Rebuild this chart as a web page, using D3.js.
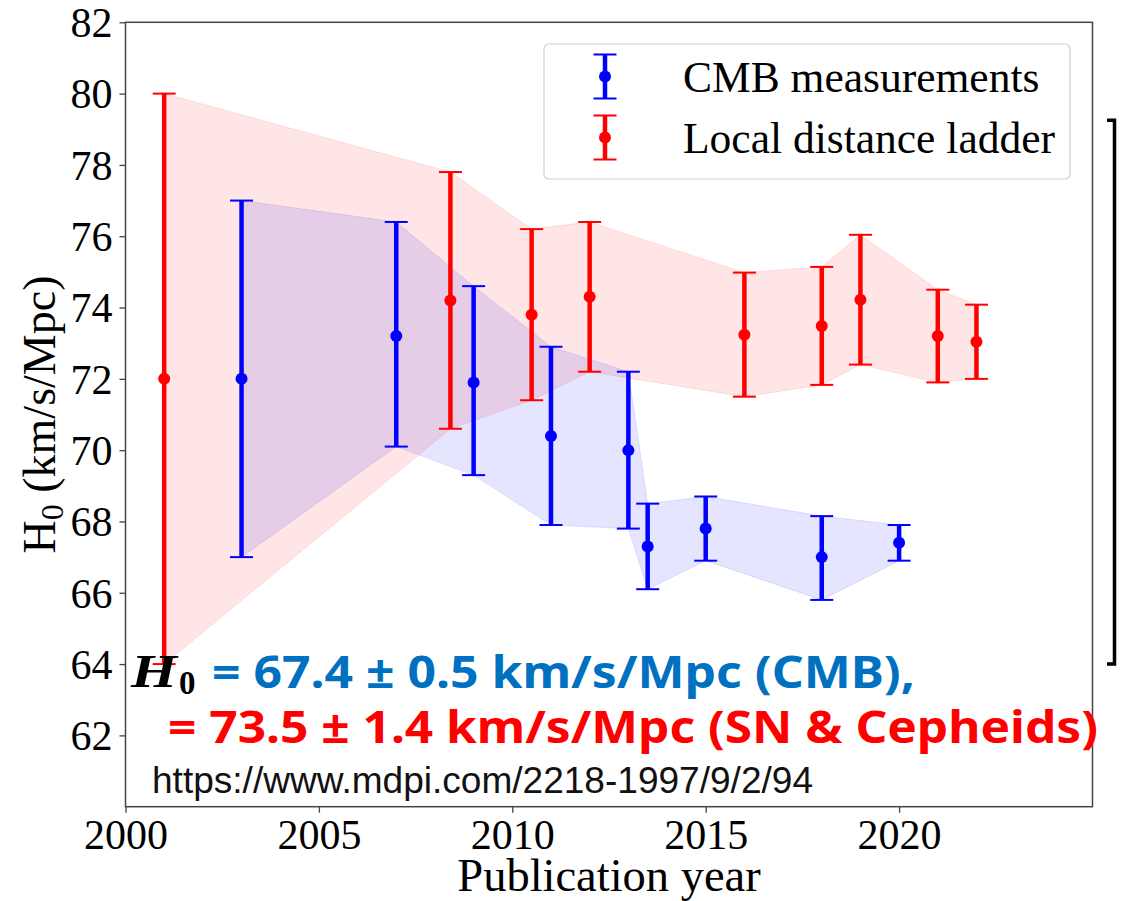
<!DOCTYPE html>
<html>
<head>
<meta charset="utf-8">
<script src="https://cdn.jsdelivr.net/npm/d3@7"></script>
<style>
  html, body { margin: 0; padding: 0; background: #fff; }
  svg { display: block; }
</style>
</head>
<body>
<svg id="chart" width="1125" height="901"></svg>
<script>
// Hubble constant measurements by publication year
const cmbYear  = [2003, 2007, 2009, 2011, 2013, 2013.5, 2015, 2018, 2020];
const cmbH0    = [72.0, 73.2, 71.9, 70.4, 70.0, 67.3, 67.8, 67.0, 67.4];
const cmbLow   = [67.0, 70.1, 69.3, 67.9, 67.8, 66.1, 66.9, 65.8, 66.9];
const cmbHigh  = [77.0, 76.4, 74.6, 72.9, 72.2, 68.5, 68.7, 68.15, 67.9];

const ladderYear = [2001, 2008.4, 2010.5, 2012, 2016, 2018, 2019, 2021, 2022];
const ladderH0   = [72.0, 74.2, 73.8, 74.3, 73.24, 73.48, 74.22, 73.2, 73.04];
const ladderLow  = [64.0, 70.6, 71.4, 72.2, 71.5, 71.83, 72.4, 71.9, 72.0];
const ladderHigh = [80.0, 77.8, 76.2, 76.4, 74.98, 75.14, 76.04, 74.5, 74.08];

const xTicks = [2000, 2005, 2010, 2015, 2020];
const yTicks = [62, 64, 66, 68, 70, 72, 74, 76, 78, 80, 82];
const legendLabels = ["CMB measurements", "Local distance ladder"];

const svg = d3.select("#chart");
const plot = { left: 125.5, right: 1092.5, top: 22.3, bottom: 806.7 };

const x = d3.scaleLinear().domain([2000, 2025]).range([plot.left, plot.right]);
const y = d3.scaleLinear().domain([60, 82]).range([plot.bottom, plot.top]);

const serif = "'Liberation Serif', 'Times New Roman', serif";
const blue = "#0000ff", red = "#ff0000";

function rows(years, mid, lo, hi) {
  return years.map((yr, i) => ({ year: yr, h0: mid[i], lo: lo[i], hi: hi[i] }));
}
const cmb = rows(cmbYear, cmbH0, cmbLow, cmbHigh);
const ladder = rows(ladderYear, ladderH0, ladderLow, ladderHigh);

// shaded uncertainty bands
const band = d3.area().x(d => x(d.year)).y0(d => y(d.lo)).y1(d => y(d.hi));
[[ladder, red], [cmb, blue]].forEach(([data, c]) => {
  svg.append("path").datum(data).attr("d", band)
    .attr("fill", c).attr("fill-opacity", 0.1)
    .attr("stroke", c).attr("stroke-opacity", 0.1).attr("stroke-width", 1);
});

// error bars with caps and central points
function errorBars(data, c) {
  const g = svg.append("g");
  g.selectAll("line.bar").data(data).join("line")
    .attr("x1", d => x(d.year)).attr("x2", d => x(d.year))
    .attr("y1", d => y(d.lo)).attr("y2", d => y(d.hi))
    .attr("stroke", c).attr("stroke-width", 4.5);
  ["lo", "hi"].forEach(k => {
    g.selectAll("line.cap" + k).data(data).join("line")
      .attr("x1", d => x(d.year) - 11.5).attr("x2", d => x(d.year) + 11.5)
      .attr("y1", d => y(d[k])).attr("y2", d => y(d[k]))
      .attr("stroke", c).attr("stroke-width", 2);
  });
  g.selectAll("circle").data(data).join("circle")
    .attr("cx", d => x(d.year)).attr("cy", d => y(d.h0)).attr("r", 6)
    .attr("fill", c);
}
errorBars(cmb, blue);
errorBars(ladder, red);

// axes
const spine = "#444";
const xAxis = svg.append("g").attr("transform", `translate(0,${plot.bottom})`)
  .call(d3.axisBottom(x).tickValues(xTicks).tickFormat(d3.format("d")).tickSize(6).tickPadding(7));
const yAxis = svg.append("g").attr("transform", `translate(${plot.left},0)`)
  .call(d3.axisLeft(y).tickValues(yTicks).tickSize(6).tickPadding(7));
[xAxis, yAxis].forEach(a => {
  a.select(".domain").remove();
  a.selectAll(".tick line").attr("stroke", spine).attr("stroke-width", 1.3);
  a.selectAll(".tick text").attr("font-family", serif).attr("font-size", 42).attr("fill", "#000");
});
xAxis.selectAll(".tick text").attr("dy", "0.70em");
yAxis.selectAll(".tick text").attr("dy", "0.34em");

svg.append("rect")
  .attr("x", plot.left).attr("y", plot.top)
  .attr("width", plot.right - plot.left).attr("height", plot.bottom - plot.top)
  .attr("fill", "none").attr("stroke", spine).attr("stroke-width", 1.5);

// axis titles
svg.append("text")
  .attr("x", (plot.left + plot.right) / 2).attr("y", 891)
  .attr("text-anchor", "middle").attr("font-family", serif).attr("font-size", 46.5)
  .text("Publication year");

const yl = svg.append("text")
  .attr("transform", `translate(55,${(plot.top + plot.bottom) / 2}) rotate(-90)`)
  .attr("text-anchor", "middle").attr("font-family", serif).attr("font-size", 46);
yl.append("tspan").text("H");
yl.append("tspan").attr("font-size", 32).attr("dy", 8).text("0");
yl.append("tspan").attr("dy", -8).text(" (km/s/Mpc)");

// legend
const lg = svg.append("g");
lg.append("rect").attr("x", 544).attr("y", 44).attr("width", 526).attr("height", 135)
  .attr("rx", 5).attr("fill", "#fff").attr("fill-opacity", 0.8)
  .attr("stroke", "#d0d0d0").attr("stroke-width", 1.2);
[[blue, 76.5], [red, 137.5]].forEach(([c, cy], i) => {
  lg.append("line").attr("x1", 605).attr("x2", 605).attr("y1", cy - 22).attr("y2", cy + 22)
    .attr("stroke", c).attr("stroke-width", 4.5);
  [-22, 22].forEach(o => lg.append("line")
    .attr("x1", 593.5).attr("x2", 616.5).attr("y1", cy + o).attr("y2", cy + o)
    .attr("stroke", c).attr("stroke-width", 2));
  lg.append("circle").attr("cx", 605).attr("cy", cy).attr("r", 6).attr("fill", c);
  lg.append("text").attr("x", 683).attr("y", cy + 15)
    .attr("font-family", serif).attr("font-size", 43.5).text(legendLabels[i]);
});

// summary annotation: bold italic H with upright subscript 0
svg.append("text").attr("x", 131).attr("y", 687)
  .attr("font-family", serif).attr("font-weight", "bold").attr("font-style", "italic")
  .attr("font-size", 46).attr("textLength", 46).attr("lengthAdjust", "spacingAndGlyphs")
  .text("H");
svg.append("text").attr("x", 179).attr("y", 694)
  .attr("font-family", serif).attr("font-weight", "bold").attr("font-size", 33)
  .text("0");

const sans = "'Noto Sans', 'Open Sans', sans-serif";
svg.append("text").attr("x", 212).attr("y", 688)
  .attr("font-family", sans).attr("font-weight", "bold").attr("font-size", 44)
  .attr("fill", "#0070c0")
  .attr("textLength", 703).attr("lengthAdjust", "spacingAndGlyphs")
  .text("= 67.4 ± 0.5 km/s/Mpc (CMB),");
svg.append("text").attr("x", 168).attr("y", 743)
  .attr("font-family", sans).attr("font-weight", "bold").attr("font-size", 44)
  .attr("fill", red)
  .attr("textLength", 930).attr("lengthAdjust", "spacingAndGlyphs")
  .text("= 73.5 ± 1.4 km/s/Mpc (SN & Cepheids)");

svg.append("text").attr("x", 152).attr("y", 793)
  .attr("font-family", "'Liberation Sans', Arial, sans-serif").attr("font-size", 36)
  .attr("fill", "#111")
  .attr("textLength", 661).attr("lengthAdjust", "spacingAndGlyphs")
  .text("https://www.mdpi.com/2218-1997/9/2/94");

// bracket at the right margin
svg.append("path")
  .attr("d", `M1107,${y(79.25)}H1114.5V${y(64.0)}H1107`)
  .attr("fill", "none").attr("stroke", "#000").attr("stroke-width", 3.5);
</script>
</body>
</html>
